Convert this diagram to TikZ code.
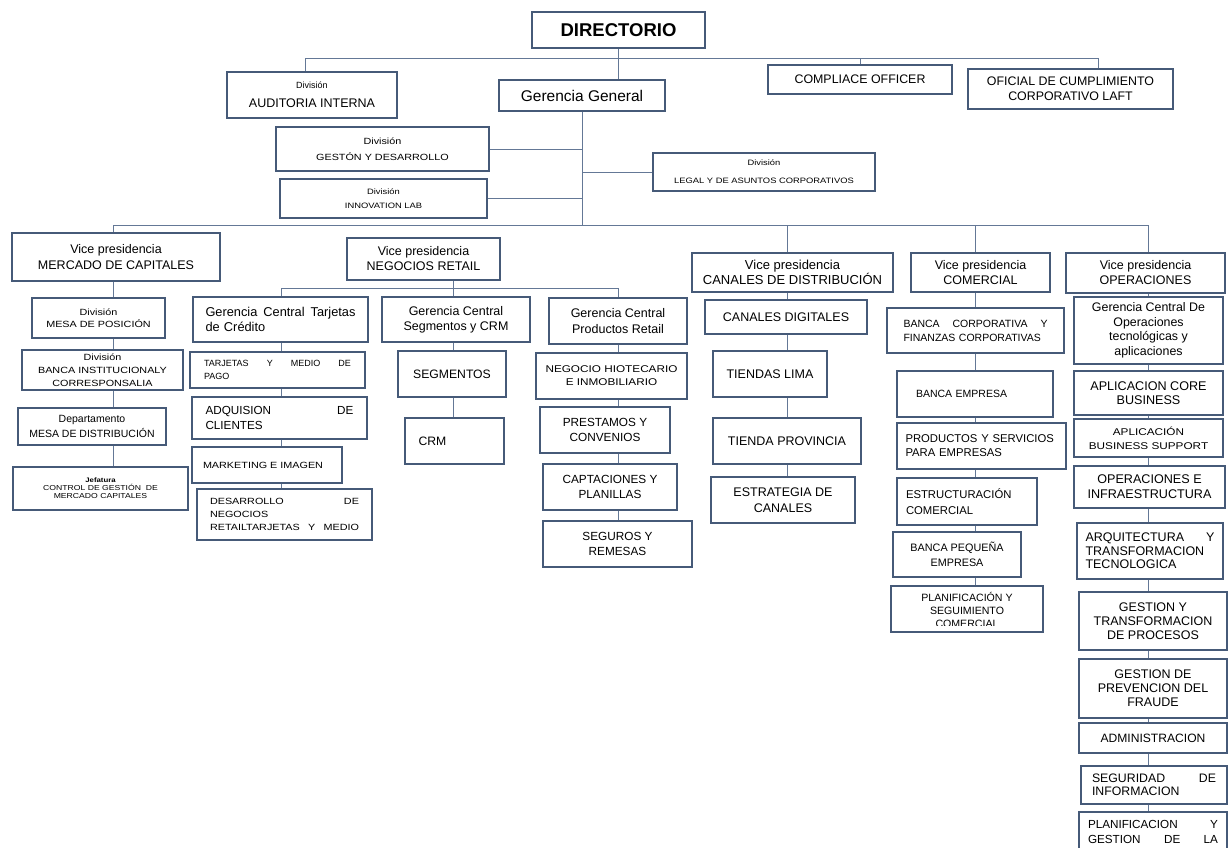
\documentclass[tikz,border=0pt]{standalone}
\usepackage{fontspec}
\setmainfont{Liberation Sans}
\newfontfamily\fwide{Liberation Sans}[FakeStretch=1.2]
\usetikzlibrary{calc}
\definecolor{boxc}{RGB}{70,90,120}
\definecolor{linec}{RGB}{100,120,150}
\newcommand\fs[2]{\fontsize{#1}{#2}\selectfont}
\newcommand\obox[7][]{%
  \pgfmathsetmacro\bw{#5-#3}%
  \pgfmathsetmacro\bh{#6-#4}%
  \pgfmathsetmacro\bcx{(#3+#5)/2}%
  \pgfmathsetmacro\bcy{(#4+#6)/2}%
  \node[box,minimum width=\bw pt,minimum height=\bh pt,#1] (#2) at (\bcx,\bcy) {#7};}
\begin{document}
\begin{tikzpicture}[x=1pt,y=-1pt,
  box/.style={draw=boxc,line width=1.1pt,fill=white,inner sep=1pt,align=center,font=\fs{12.5}{15}},
  conn/.style={draw=linec,line width=0.9pt}]
\fill[white] (0,0) rectangle (1229,847);
\useasboundingbox (0,0) rectangle (1229,847);
\clip (0,0) rectangle (1229,847);

% top level
\obox[font=\bfseries\fs{18.5}{22}]{dir}{532}{12}{705}{48}{DIRECTORIO}
\obox{aud}{227}{72}{397}{118}{{\fs{9}{11}División}\\[4pt]AUDITORIA INTERNA}
\obox[font=\fs{15.5}{18}]{gg}{499}{80}{665}{111}{Gerencia General}
\obox[font=\fs{12.4}{15}]{comp}{768}{65}{952}{94}{COMPLIACE OFFICER}
\obox[font=\fs{12.4}{15}]{ofi}{968}{69}{1173}{109}{OFICIAL DE CUMPLIMIENTO\\CORPORATIVO LAFT}
\obox[font=\fwide\fs{9}{16}]{gest}{276}{127}{489}{171}{División\\GESTÓN Y DESARROLLO}
\obox[font=\fwide\fs{7.8}{14}]{inn}{280}{179}{487}{218}{División\\INNOVATION LAB}
\obox[font=\fwide\fs{7.8}{18}]{legal}{653}{153}{875}{191}{División\\LEGAL Y DE ASUNTOS CORPORATIVOS}

% vice presidencias
\obox[font=\fs{12.5}{16}]{vpmc}{12}{233}{220}{281}{Vice presidencia\\MERCADO DE CAPITALES}
\obox[font=\fs{12.5}{15}]{vpnr}{347}{238}{500}{280}{Vice presidencia\\NEGOCIOS RETAIL}
\obox[font=\fs{13}{15}]{vpcd}{692}{253}{893}{292}{Vice presidencia\\CANALES DE DISTRIBUCIÓN}
\obox[font=\fs{12.5}{15}]{vpco}{911}{253}{1050}{292}{Vice presidencia\\COMERCIAL}
\obox[font=\fs{12.5}{15}]{vpop}{1066}{253}{1225}{293}{Vice presidencia\\OPERACIONES}

% mercado de capitales
\obox[font=\fwide\fs{9}{12}]{mesa}{32}{298}{165}{338}{División\\MESA DE POSICIÓN}
\obox[font=\fwide\fs{9}{13}]{banc}{22}{350}{183}{390}{División\\BANCA INSTITUCIONALY\\CORRESPONSALIA}
\obox[font=\fs{10.5}{15}]{depto}{18}{408}{166}{445}{Departamento\\MESA DE DISTRIBUCIÓN}
\obox[font=\fwide\fs{7.2}{8}]{jef}{13}{467}{188}{510}{{\bfseries\fs{6.5}{8}Jefatura}\\CONTROL DE GESTIÓN\ \ DE\\MERCADO CAPITALES}

% tarjetas
\obox[font=\fs{12.8}{15},text width=150pt,align=left]{gct}{193}{297}{368}{342}{Gerencia\hfill Central\hfill Tarjetas\\de Crédito}
\obox[font=\fs{9}{13},text width=147pt,align=left]{tmp}{190}{352}{365}{388}{TARJETAS\hfill Y\hfill MEDIO\hfill DE\\PAGO}
\obox[font=\fs{11.7}{15},text width=148pt,align=left]{adq}{192}{397}{367}{439}{ADQUISION\hfill DE\\CLIENTES}
\obox[font=\fwide\fs{9}{12},text width=128pt,align=left]{mkt}{192}{447}{342}{483}{MARKETING E IMAGEN}
\obox[font=\fwide\fs{9}{13},text width=149pt,align=left]{des}{197}{489}{372}{540}{DESARROLLO\hfill DE\\NEGOCIOS\\RETAILTARJETAS\hfill Y\hfill MEDIO}

% segmentos
\obox[font=\fs{12.5}{15}]{gcs}{382}{297}{530}{342}{Gerencia Central\\Segmentos y CRM}
\obox[font=\fs{12.2}{15}]{seg}{398}{351}{506}{397}{SEGMENTOS}
\obox[font=\fs{12.2}{15},text width=72pt,align=left]{crm}{405}{418}{504}{464}{CRM}

% productos retail
\obox[font=\fs{12.5}{16}]{gcp}{549}{298}{687}{344}{Gerencia Central\\Productos Retail}
\obox[font=\fwide\fs{9.8}{13}]{neg}{536}{353}{687}{399}{NEGOCIO HIOTECARIO\\E INMOBILIARIO}
\obox[font=\fs{11.8}{15}]{pre}{540}{407}{670}{453}{PRESTAMOS Y\\CONVENIOS}
\obox[font=\fs{11.8}{14.5}]{cap}{543}{464}{677}{510}{CAPTACIONES Y\\PLANILLAS}
\obox[font=\fs{11.8}{14.5}]{sgr}{543}{521}{692}{567}{SEGUROS Y\\REMESAS}

% canales
\obox[font=\fs{12.5}{15}]{cd}{705}{300}{867}{334}{CANALES DIGITALES}
\obox[font=\fs{12.5}{15}]{tl}{713}{351}{827}{397}{TIENDAS LIMA}
\obox[font=\fs{12.5}{15}]{tp}{713}{418}{861}{464}{TIENDA PROVINCIA}
\obox[font=\fs{12.5}{16}]{ec}{711}{477}{855}{523}{ESTRATEGIA DE\\CANALES}

% comercial
\obox[font=\fs{10.5}{14},text width=144pt,align=left]{bc}{887}{308}{1064}{353}{BANCA\hfill CORPORATIVA\hfill Y\\FINANZAS CORPORATIVAS}
\obox[font=\fs{10.5}{14},text width=118pt,align=left]{be}{897}{371}{1053}{417}{BANCA EMPRESA}
\obox[font=\fs{11.3}{14},text width=152pt,align=left]{ps}{897}{423}{1066}{469}{PRODUCTOS Y SERVICIOS\\PARA EMPRESAS}
\obox[font=\fs{11.3}{16},text width=122pt,align=left]{es}{897}{478}{1037}{525}{ESTRUCTURACIÓN\\COMERCIAL}
\obox[font=\fs{10.8}{15}]{bp}{893}{532}{1021}{577}{BANCA PEQUEÑA\\EMPRESA}
\obox{pl}{891}{586}{1043}{632}{}
\begin{scope}
\clip (891,586) rectangle (1043,625);
\node[font=\fs{10.6}{12.8},align=center,anchor=north,inner sep=0pt] (plt) at (967,592) {PLANIFICACIÓN Y\\SEGUIMIENTO\\COMERCIAL};
\end{scope}

% operaciones
\obox[font=\fs{12.4}{14.5}]{gco}{1074}{297}{1223}{364}{Gerencia Central De\\Operaciones\\tecnológicas y\\aplicaciones}
\obox[font=\fs{12.6}{14}]{acb}{1074}{371}{1223}{415}{APLICACION CORE\\BUSINESS}
\obox[font=\fwide\fs{9.8}{14}]{abs}{1074}{419}{1223}{457}{APLICACIÓN\\BUSINESS SUPPORT}
\obox[font=\fs{12.6}{15}]{oei}{1074}{466}{1225}{508}{OPERACIONES E\\INFRAESTRUCTURA}
\obox[font=\fs{12.5}{13.5},text width=129pt,align=left]{atx}{1077}{523}{1223}{579}{ARQUITECTURA\hfill Y\\TRANSFORMACION\\TECNOLOGICA}
\obox[font=\fs{12.5}{14}]{gtp}{1079}{592}{1227}{650}{GESTION Y\\TRANSFORMACION\\DE PROCESOS}
\obox[font=\fs{12.5}{14}]{gpf}{1079}{659}{1227}{718}{GESTION DE\\PREVENCION DEL\\FRAUDE}
\obox[font=\fs{12.1}{14}]{adm}{1079}{723}{1227}{753}{ADMINISTRACION}
\obox[font=\fs{12.3}{13.5},text width=124pt,align=left]{sdi}{1081}{766}{1227}{804}{SEGURIDAD\hfill DE\\INFORMACION}
\obox[font=\fs{11.7}{15},text width=130pt,align=left]{pgl}{1079}{812}{1227}{852}{PLANIFICACION\hfill Y\\GESTION\hfill DE\hfill LA}

% connectors: top
\coordinate (busA) at (305,58);
\coordinate (busB) at (1098,58);
\draw[conn] (busA) -- (busB);
\draw[conn] (busA) -- (busA |- aud.north);
\draw[conn] (busB) -- (busB |- ofi.north);
\draw[conn] (comp.north) -- (comp.north |- busA);
\draw[conn] (dir.south) -- (dir.south |- gg.north);

% gerencia general
\coordinate (busC) at (113,225);
\coordinate (busD) at (1148,225);
\draw[conn] (gg.south) -- (gg.south |- busC);
\draw[conn] (gest.east) -- (gest.east -| gg.south);
\draw[conn] (inn.east) -- (inn.east -| gg.south);
\draw[conn] (legal.west -| gg.south) -- (legal.west);
\draw[conn] (busC) -- (busD);
\draw[conn] (busC) -- (busC |- vpmc.north);
\draw[conn] (busD) -- (busD |- vpop.north);
\coordinate (xcd) at (787,0);
\coordinate (xco) at (975,0);
\draw[conn] (busC -| xcd) -- (xcd |- vpcd.north);
\draw[conn] (busC -| xco) -- (xco |- vpco.north);

% mercado column
\foreach \a/\b in {vpmc/mesa,mesa/banc,banc/depto,depto/jef}
  \draw[conn] (\a.south -| busC) -- (\b.north -| busC);

% negocios retail
\coordinate (xtj) at (281,0);
\coordinate (xsg) at (453,0);
\coordinate (xpr) at (618,0);
\coordinate (nrA) at (281,288);
\coordinate (nrB) at (618,288);
\draw[conn] (vpnr.south -| xsg) -- (gcs.north -| xsg);
\draw[conn] (nrA) -- (nrB);
\draw[conn] (nrA) -- (gct.north -| nrA);
\draw[conn] (nrB) -- (gcp.north -| nrB);
\foreach \a/\b in {gct/tmp,tmp/adq,adq/mkt,mkt/des}
  \draw[conn] (\a.south -| xtj) -- (\b.north -| xtj);
\foreach \a/\b in {gcs/seg,seg/crm}
  \draw[conn] (\a.south -| xsg) -- (\b.north -| xsg);
\foreach \a/\b in {gcp/neg,neg/pre,pre/cap,cap/sgr}
  \draw[conn] (\a.south -| xpr) -- (\b.north -| xpr);

% canales, comercial, operaciones
\foreach \a/\b in {vpcd/cd,cd/tl,tl/tp,tp/ec}
  \draw[conn] (\a.south -| xcd) -- (\b.north -| xcd);
\foreach \a/\b in {vpco/bc,bc/be,be/ps,ps/es,es/bp,bp/pl}
  \draw[conn] (\a.south -| xco) -- (\b.north -| xco);
\foreach \a/\b in {vpop/gco,gco/acb,acb/abs,abs/oei,oei/atx,atx/gtp,gtp/gpf,gpf/adm,adm/sdi,sdi/pgl}
  \draw[conn] (\a.south -| busD) -- (\b.north -| busD);
\end{tikzpicture}
\end{document}
